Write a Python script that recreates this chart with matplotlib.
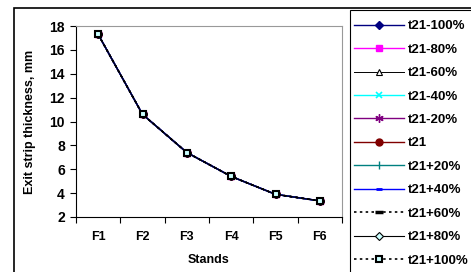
import matplotlib

matplotlib.use("Agg")
import matplotlib.pyplot as plt
from matplotlib.patches import Rectangle

plt.rcParams["font.family"] = ["Liberation Sans", "DejaVu Sans"]
plt.rcParams["font.weight"] = "bold"

stands = ["F1", "F2", "F3", "F4", "F5", "F6"]

# exit thickness per stand, mm (all cases nearly coincide)
t21_m100 = [17.3, 10.6, 7.4, 5.4, 3.9, 3.35]
t21_m80 = [17.3, 10.6, 7.4, 5.4, 3.9, 3.35]
t21_m60 = [17.3, 10.6, 7.4, 5.4, 3.9, 3.35]
t21_m40 = [17.3, 10.6, 7.4, 5.4, 3.9, 3.35]
t21_m20 = [17.3, 10.6, 7.4, 5.4, 3.9, 3.35]
t21_0 = [17.3, 10.6, 7.4, 5.4, 3.9, 3.35]
t21_p20 = [17.3, 10.6, 7.4, 5.4, 3.9, 3.35]
t21_p40 = [17.3, 10.6, 7.4, 5.4, 3.9, 3.35]
t21_p60 = [17.3, 10.6, 7.4, 5.4, 3.9, 3.35]
t21_p80 = [17.3, 10.6, 7.4, 5.4, 3.9, 3.35]
t21_p100 = [17.3, 10.6, 7.4, 5.4, 3.9, 3.35]

labels = ["t21-100%", "t21-80%", "t21-60%", "t21-40%", "t21-20%", "t21",
          "t21+20%", "t21+40%", "t21+60%", "t21+80%", "t21+100%"]
series = [t21_m100, t21_m80, t21_m60, t21_m40, t21_m20, t21_0,
          t21_p20, t21_p40, t21_p60, t21_p80, t21_p100]

styles = [
    dict(color="#000080", marker="D", ms=4, mfc="#000080", mec="#000080", ls="-", lw=1.0),
    dict(color="#FF00FF", marker="s", ms=5, mfc="#FF00FF", mec="#FF00FF", ls="-", lw=1.0),
    dict(color="#000000", marker="^", ms=4, mfc="white", mec="#000000", mew=0.8, ls="-", lw=0.7),
    dict(color="#00FFFF", marker="x", ms=5, mfc="none", mec="#00FFFF", mew=1.2, ls="-", lw=1.0),
    dict(color="#800080", marker=(6, 2, 0), ms=6, mfc="none", mec="#800080", mew=1.0, ls="-", lw=1.0),
    dict(color="#800000", marker="o", ms=5, mfc="#800000", mec="#800000", ls="-", lw=1.0),
    dict(color="#008080", marker="|", ms=6, mfc="none", mec="#008080", mew=1.0, ls="-", lw=1.0),
    dict(color="#0000FF", marker="_", ms=4, mfc="none", mec="#0000FF", mew=2.0, ls="-", lw=1.0),
    dict(color="#000000", marker="_", ms=6, mfc="none", mec="#000000", mew=2.5, ls=(0, (1.5, 2)), lw=1.2),
    dict(color="#000000", marker="D", ms=4.5, mfc="#CCFFFF", mec="#000000", mew=0.8, ls="-", lw=0.8),
    dict(color="#000000", marker="s", ms=4.5, mfc="#CCFFFF", mec="#000000", mew=1.5, ls=(0, (1.5, 2)), lw=1.2),
]

fig = plt.figure(figsize=(4.71, 2.72), dpi=100)

# outer chart border and legend box
fig.patches.append(Rectangle((13.5 / 471, -0.1), 1.2, 0.971 + 0.1, transform=fig.transFigure,
                             fill=False, ec="black", lw=1.2))
fig.patches.append(Rectangle((350 / 471, -0.1), 1.2, 1 - 10 / 272 + 0.1, transform=fig.transFigure,
                             fill=False, ec="black", lw=0.8))

ax = fig.add_axes([76 / 471, 1 - 217 / 272, (342 - 76) / 471, (217 - 26) / 272])
xs = [i + 0.5 for i in range(len(stands))]
handles = []
for lab, vals, st in zip(labels, series, styles):
    (h,) = ax.plot(xs, vals, label=lab, **st)
    handles.append(h)

ax.set_xlim(0, 6)
ax.set_ylim(2, 18)
ax.set_yticks(range(2, 19, 2))
ax.set_xticks(range(0, 7))
ax.set_xticklabels([])
ax.set_xticks(xs, minor=True)
ax.set_xticklabels(stands, minor=True)
ax.tick_params(axis="x", which="major", length=4, direction="out", width=0.8)
ax.tick_params(axis="x", which="minor", length=0, pad=10, labelsize=9)
ax.tick_params(axis="y", length=4, width=0.8, labelsize=10, pad=4)
for s in ("top", "right"):
    ax.spines[s].set_color("#999999")
ax.set_xlabel("Stands", fontsize=9, fontweight="bold", labelpad=8)
ax.set_ylabel("Exit strip thickness, mm", fontsize=9, fontweight="bold", labelpad=10)

fig.legend(handles=handles, labels=labels, loc="upper left",
           bbox_to_anchor=(354 / 471, 1 - 20 / 272), frameon=False,
           fontsize=9.5, handlelength=3.8, handletextpad=0.3,
           labelspacing=0.85, borderaxespad=0, borderpad=0)

fig.savefig("out.png", dpi=100)
